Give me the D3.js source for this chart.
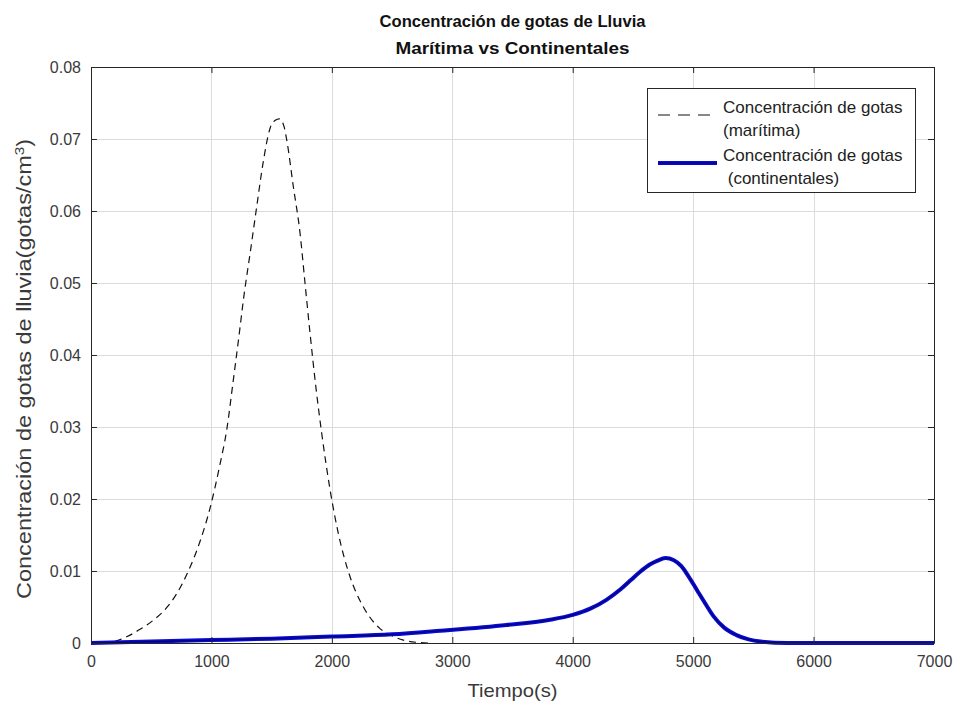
<!DOCTYPE html>
<html>
<head>
<meta charset="utf-8">
<script src="https://cdn.jsdelivr.net/npm/d3@7"></script>
<style>
  html, body { margin: 0; padding: 0; background: #ffffff; }
  svg { display: block; font-family: "Liberation Sans", Arial, Helvetica, sans-serif; }
</style>
</head>
<body>
<svg id="chart" width="960" height="713"></svg>
<script>
// Rain drop concentration over time: maritime vs continental clouds
const xTicks = [0, 1000, 2000, 3000, 4000, 5000, 6000, 7000];
const xTickLabels = ["0", "1000", "2000", "3000", "4000", "5000", "6000", "7000"];
const yTicks = [0, 0.01, 0.02, 0.03, 0.04, 0.05, 0.06, 0.07, 0.08];
const yTickLabels = ["0", "0.01", "0.02", "0.03", "0.04", "0.05", "0.06", "0.07", "0.08"];

// Maritime series (time in s, concentration in gotas/cm^3)
const maritimeTime = [0, 185, 300, 407, 520, 628, 710, 795, 905, 988, 1071, 1127, 1177,
  1238, 1265, 1321, 1376, 1431, 1487, 1530, 1564, 1600, 1625, 1680, 1736, 1777, 1819,
  1869, 1916, 1985, 2054, 2151, 2262, 2400, 2500, 2594, 2700, 2800];
const maritimeConc = [0, 0.0002, 0.0009, 0.0019, 0.0032, 0.0049, 0.0068, 0.0095, 0.0141,
  0.0187, 0.0248, 0.0296, 0.0359, 0.0439, 0.0476, 0.0541, 0.0606, 0.0669, 0.0715, 0.0726,
  0.0728, 0.0719, 0.0699, 0.0634, 0.0569, 0.0500, 0.0430, 0.0353, 0.0291, 0.0213, 0.0152,
  0.0092, 0.0050, 0.0020, 0.0010, 0.0004, 0.0001, 0];

// Continental series
const continentalTime = [0, 500, 1000, 1500, 2000, 2500, 2900, 3450, 3800, 4000, 4150,
  4280, 4400, 4480, 4560, 4640, 4700, 4770, 4840, 4900, 4960, 5030, 5100, 5170, 5260,
  5360, 5460, 5560, 5780, 7000];
const continentalConc = [0, 0.0002, 0.0004, 0.0006, 0.0009, 0.0012, 0.0017, 0.0025, 0.0032,
  0.0039, 0.0048, 0.0060, 0.0075, 0.0087, 0.0099, 0.0109, 0.0114, 0.0118, 0.0115, 0.0107,
  0.0093, 0.0074, 0.0055, 0.0037, 0.0021, 0.0011, 0.0005, 0.0002, 0, 0];

const titleLines = ["Concentración de gotas de Lluvia", "Marítima vs Continentales"];
const legendEntries = [
  { lines: ["Concentración de gotas", "(marítima)"], kind: "maritime" },
  { lines: ["Concentración de gotas", " (continentales)"], kind: "continental" }
];

const svg = d3.select("#chart");
const plot = { left: 91, right: 934, top: 67, bottom: 643 };
const axisColor = "#262626";
const textColor = "#3a3a3a";

const x = d3.scaleLinear().domain([0, 7000]).range([plot.left, plot.right]);
const y = d3.scaleLinear().domain([0, 0.08]).range([plot.bottom, plot.top]);

// background of axes
svg.append("rect")
  .attr("x", plot.left).attr("y", plot.top)
  .attr("width", plot.right - plot.left).attr("height", plot.bottom - plot.top)
  .attr("fill", "#ffffff");

// grid
const grid = svg.append("g").attr("stroke", "#dcdcdc").attr("stroke-width", 1);
grid.selectAll("line.gx").data(xTicks.slice(1, -1)).join("line")
  .attr("x1", d => Math.round(x(d)) + 0.5).attr("x2", d => Math.round(x(d)) + 0.5)
  .attr("y1", plot.top).attr("y2", plot.bottom);
grid.selectAll("line.gy").data(yTicks.slice(1, -1)).join("line")
  .attr("y1", d => Math.round(y(d)) + 0.5).attr("y2", d => Math.round(y(d)) + 0.5)
  .attr("x1", plot.left).attr("x2", plot.right);

// data lines
const line = d3.line()
  .x(d => x(d[0]))
  .y(d => y(d[1]))
  .curve(d3.curveMonotoneX);

const maritime = maritimeTime.map((t, i) => [t, maritimeConc[i]]);
const continental = continentalTime.map((t, i) => [t, continentalConc[i]]);

svg.append("path")
  .datum(maritime)
  .attr("d", line)
  .attr("fill", "none")
  .attr("stroke", "#111111")
  .attr("stroke-width", 1.2)
  .attr("stroke-dasharray", "7,5");

svg.append("path")
  .datum(continental)
  .attr("d", line)
  .attr("fill", "none")
  .attr("stroke", "#0a0ad6")
  .attr("stroke-width", 4)
  .attr("stroke-linejoin", "round");
svg.append("path")
  .datum(continental)
  .attr("d", line)
  .attr("fill", "none")
  .attr("stroke", "#00004a")
  .attr("stroke-width", 1.2)
  .attr("stroke-opacity", 0.7);

// axes (ticks point inward, box on all sides)
function styleAxis(g) {
  g.select(".domain").attr("stroke", axisColor);
  g.selectAll(".tick line").attr("stroke", axisColor);
  g.selectAll(".tick text").attr("fill", textColor).attr("font-size", 16);
}

const xAxis = d3.axisBottom(x).tickValues(xTicks)
  .tickFormat((d, i) => xTickLabels[i]).tickSizeInner(-6).tickSizeOuter(0).tickPadding(13);
svg.append("g").attr("transform", `translate(0,${plot.bottom})`).call(xAxis).call(styleAxis);

const xAxisTop = d3.axisTop(x).tickValues(xTicks).tickFormat("")
  .tickSizeInner(-6).tickSizeOuter(0);
svg.append("g").attr("transform", `translate(0,${plot.top})`).call(xAxisTop).call(styleAxis);

const yAxis = d3.axisLeft(y).tickValues(yTicks)
  .tickFormat((d, i) => yTickLabels[i]).tickSizeInner(-6).tickSizeOuter(0).tickPadding(10);
svg.append("g").attr("transform", `translate(${plot.left},0)`).call(yAxis).call(styleAxis);

const yAxisRight = d3.axisRight(y).tickValues(yTicks).tickFormat("")
  .tickSizeInner(-6).tickSizeOuter(0);
svg.append("g").attr("transform", `translate(${plot.right},0)`).call(yAxisRight).call(styleAxis);

// title
const titleWidths = [266, 234];
svg.append("g").selectAll("text").data(titleLines).join("text")
  .attr("x", (plot.left + plot.right) / 2)
  .attr("y", (d, i) => 27 + i * 27)
  .attr("text-anchor", "middle")
  .attr("font-size", 17)
  .attr("font-weight", "bold")
  .attr("fill", "#111111")
  .attr("textLength", (d, i) => titleWidths[i])
  .attr("lengthAdjust", "spacingAndGlyphs")
  .text(d => d);

// axis labels
svg.append("text")
  .attr("x", (plot.left + plot.right) / 2)
  .attr("y", 697)
  .attr("text-anchor", "middle")
  .attr("font-size", 19)
  .attr("fill", textColor)
  .attr("textLength", 90)
  .attr("lengthAdjust", "spacingAndGlyphs")
  .text("Tiempo(s)");

const yLabel = svg.append("text")
  .attr("transform", `translate(31,${(plot.top + plot.bottom) / 2 + 14}) rotate(-90)`)
  .attr("text-anchor", "middle")
  .attr("font-size", 20)
  .attr("fill", textColor)
  .attr("textLength", 460)
  .attr("lengthAdjust", "spacingAndGlyphs");
yLabel.append("tspan").text("Concentración de gotas de lluvia(gotas/cm");
yLabel.append("tspan").attr("baseline-shift", "super").attr("font-size", 13).text("3");
yLabel.append("tspan").text(")");

// legend
const legend = svg.append("g");
legend.append("rect")
  .attr("x", 647.5).attr("y", 88.5).attr("width", 268).attr("height", 104)
  .attr("fill", "#ffffff").attr("stroke", axisColor).attr("stroke-width", 1);

legendEntries.forEach((e, i) => {
  const cy = 115 + i * 48;
  if (e.kind === "maritime") {
    legend.append("line")
      .attr("x1", 658).attr("x2", 717).attr("y1", cy).attr("y2", cy)
      .attr("stroke", "#111111").attr("stroke-width", 1.2).attr("stroke-dasharray", "12,8");
  } else {
    legend.append("line")
      .attr("x1", 658).attr("x2", 717).attr("y1", cy).attr("y2", cy)
      .attr("stroke", "#0a0ad6").attr("stroke-width", 4);
    legend.append("line")
      .attr("x1", 658).attr("x2", 717).attr("y1", cy).attr("y2", cy)
      .attr("stroke", "#00004a").attr("stroke-width", 1.2).attr("stroke-opacity", 0.7);
  }
  e.lines.forEach((t, j) => {
    legend.append("text")
      .attr("x", 723)
      .attr("y", cy - 2 + j * 23)
      .attr("font-size", 17)
      .attr("fill", "#222222")
      .attr("xml:space", "preserve")
      .style("white-space", "pre")
      .text(t);
  });
});
</script>
</body>
</html>
